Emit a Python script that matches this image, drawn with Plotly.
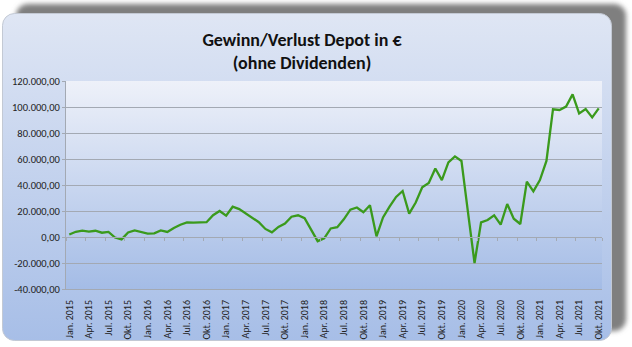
import base64
import plotly.graph_objects as go

# ---------------- data ----------------
months = list(range(82))  # Jan. 2015 ... Okt. 2021 (category index)
values = [
    1900, 4000, 4900, 4200, 4800, 3300, 3900, -400, -1800, 3500, 5000, 3500,
    2600, 2800, 5000, 3900, 7000, 9400, 11300, 11000, 11000, 11400, 16800, 20000,
    16400, 23300, 21500, 18000, 14800, 11400, 6200, 3600, 7800, 10400, 15600, 16700,
    14500, 5400, -3200, -1000, 6600, 7600, 13600, 21000, 22700, 19000, 24400, 500,
    15100, 23300, 30800, 35400, 18000, 26500, 38200, 41500, 52700, 43800, 57400, 62000,
    58500, 19000, -20000, 11300, 13100, 16700, 9500, 25400, 14100, 10000, 42600, 35100,
    43800, 58500, 98200, 97700, 100300, 109700, 95100, 98500, 92000, 99000,
]
x_tick_vals = list(range(0, 82, 3))
x_tick_text = [
    "Jan. 2015", "Apr. 2015", "Jul. 2015", "Okt. 2015",
    "Jan. 2016", "Apr. 2016", "Jul. 2016", "Okt. 2016",
    "Jan. 2017", "Apr. 2017", "Jul. 2017", "Okt. 2017",
    "Jan. 2018", "Apr. 2018", "Jul. 2018", "Okt. 2018",
    "Jan. 2019", "Apr. 2019", "Jul. 2019", "Okt. 2019",
    "Jan. 2020", "Apr. 2020", "Jul. 2020", "Okt. 2020",
    "Jan. 2021", "Apr. 2021", "Jul. 2021", "Okt. 2021",
]
y_tick_vals = [-40000, -20000, 0, 20000, 40000, 60000, 80000, 100000, 120000]
y_tick_text = ["-40.000,00", "-20.000,00", "0,00", "20.000,00", "40.000,00",
               "60.000,00", "80.000,00", "100.000,00", "120.000,00"]
title_lines = ["Gewinn/Verlust Depot in €", "(ohne Dividenden)"]

# ---------------- layout geometry ----------------
W, H = 632, 347
ML, MR, MT, MB = 66, 30, 81, 58
PW, PH = W - ML - MR, H - MT - MB
FONT = "Carlito, Lato, sans-serif"

svg = f"""<svg xmlns="http://www.w3.org/2000/svg" width="{W}" height="{H}">
<defs>
<linearGradient id="pg" x1="0" y1="0" x2="0" y2="1">
<stop offset="0" stop-color="#dfe6f4"/><stop offset="1" stop-color="#a7bee7"/></linearGradient>
<linearGradient id="ag" x1="0" y1="0" x2="0" y2="1">
<stop offset="0" stop-color="#eef1f9"/><stop offset="1" stop-color="#a4bce6"/></linearGradient>
<filter id="b" x="-5%" y="-5%" width="110%" height="110%"><feGaussianBlur stdDeviation="2.5"/></filter>
</defs>
<rect x="16" y="4" width="610" height="327" rx="12" fill="#7f7f7f" filter="url(#b)"/>
<rect x="2.5" y="13.5" width="609" height="327" rx="12" fill="url(#pg)" stroke="#c3c9d4"/>
<rect x="{ML}" y="{MT}" width="{PW}" height="{PH}" fill="url(#ag)"/>
</svg>"""
bg_uri = "data:image/svg+xml;base64," + base64.b64encode(svg.encode()).decode()

fig = go.Figure()
fig.add_trace(go.Scatter(
    x=months, y=values, mode="lines", xaxis="x", yaxis="y",
    line=dict(color="#3a9a1c", width=2.3), hoverinfo="skip", showlegend=False,
))
# empty helper trace so the category axis crossing at 0 (with its tick marks) is drawn
fig.add_trace(go.Scatter(x=[], y=[], xaxis="x2", yaxis="y", mode="lines",
                         hoverinfo="skip", showlegend=False))

grid = "#a3a9b3"
fig.update_layout(
    width=W, height=H,
    margin=dict(l=ML, r=MR, t=MT, b=MB, pad=0, autoexpand=False),
    paper_bgcolor="white",
    plot_bgcolor="rgba(0,0,0,0)",
    images=[dict(source=bg_uri, xref="paper", yref="paper",
                 x=-ML / PW, y=1 + MT / PH, sizex=W / PW, sizey=H / PH,
                 xanchor="left", yanchor="top", sizing="stretch", layer="below")],
    title=dict(text="<b>" + title_lines[0] + "<br>" + title_lines[1] + "</b>",
               x=302 / W, xanchor="center", y=1 - 45.5 / H, yanchor="middle",
               font=dict(family=FONT, size=18, color="#111111")),
    xaxis=dict(range=[-0.5, 81.5], tickmode="array", tickvals=x_tick_vals,
               ticktext=x_tick_text, tickangle=-90, showgrid=False, zeroline=False,
               showline=True, linecolor=grid, linewidth=1, ticks="", automargin=False,
               tickfont=dict(family=FONT, size=10, color="#222222"),
               ticklabelstandoff=6),
    xaxis2=dict(range=[-0.5, 81.5], overlaying="x", anchor="free", position=0.25,
                tickmode="array", tickvals=[v - 0.5 for v in x_tick_vals] + [81.5],
                showticklabels=False, ticks="outside", ticklen=3, tickcolor=grid,
                automargin=False,
                showline=True, linecolor=grid, linewidth=1, showgrid=False, zeroline=False),
    yaxis=dict(range=[-40000, 120000], tickmode="array", tickvals=y_tick_vals,
               ticktext=y_tick_text, showgrid=True, gridcolor=grid, gridwidth=1,
               zeroline=False, showline=True, linecolor=grid, ticks="outside",
               ticklen=3, tickcolor=grid, automargin=False,
               tickfont=dict(family=FONT, size=10.5, color="#222222")),
)

fig.write_html("out.html")
